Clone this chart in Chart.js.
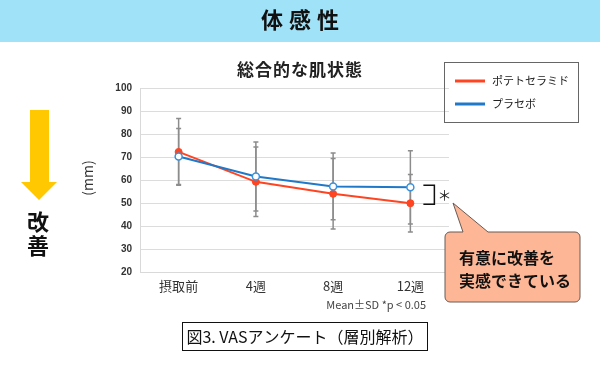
<!DOCTYPE html>
<html>
<head>
<meta charset="utf-8">
<script src="https://cdn.jsdelivr.net/npm/chart.js@4.4.0/dist/chart.umd.min.js"></script>
<style>
  html, body { margin: 0; padding: 0; background: #fff; }
  #wrap { position: relative; width: 600px; height: 370px; }
</style>
</head>
<body>
<div id="wrap"><canvas id="vasChart" width="600" height="370"></canvas></div>
<script>
// Data
const categories = ['摂取前', '4週', '8週', '12週'];
const ceramideMean = [72.2, 59.2, 54.0, 49.9];
const ceramideSd = [14.5, 15.1, 15.3, 12.5];
const placeboMean = [70.2, 61.5, 57.2, 56.8];
const placeboSd = [12.2, 15.0, 14.5, 15.9];
const yTicks = [20, 30, 40, 50, 60, 70, 80, 90, 100];

const JP = "'Noto Sans CJK JP', 'Noto Sans', sans-serif";
const RED = '#ff4422';
const BLUE = '#1f78c8';

// Error bars drawn under the lines
const errorBars = {
    id: 'errorBars',
    beforeDatasetsDraw(chart) {
        const ctx = chart.ctx;
        const y = chart.scales.y;
        ctx.save();
        ctx.strokeStyle = '#8c8c8c';
        ctx.lineWidth = 1.5;
        chart.data.datasets.forEach((ds, i) => {
            const meta = chart.getDatasetMeta(i);
            meta.data.forEach((pt, j) => {
                const top = y.getPixelForValue(ds.data[j] + ds.sd[j]);
                const bot = y.getPixelForValue(ds.data[j] - ds.sd[j]);
                ctx.beginPath();
                ctx.moveTo(pt.x, top);
                ctx.lineTo(pt.x, bot);
                ctx.moveTo(pt.x - 2.5, top);
                ctx.lineTo(pt.x + 2.5, top);
                ctx.moveTo(pt.x - 2.5, bot);
                ctx.lineTo(pt.x + 2.5, bot);
                ctx.stroke();
            });
        });
        ctx.restore();
    }
};

// Banner, titles, legend, bracket, callout, caption
const decorations = {
    id: 'decorations',
    beforeDraw(chart) {
        const ctx = chart.ctx;
        ctx.save();
        ctx.fillStyle = '#fff';
        ctx.fillRect(0, 0, chart.width, chart.height);
        ctx.fillStyle = '#a0e2f8';
        ctx.fillRect(0, 0, chart.width, 42);
        ctx.restore();
    },
    afterDraw(chart) {
        const ctx = chart.ctx;
        const x = chart.scales.x;
        const y = chart.scales.y;
        ctx.save();
        ctx.textBaseline = 'middle';

        // banner title
        ctx.fillStyle = '#111';
        ctx.font = 'bold 22px ' + JP;
        ctx.textAlign = 'center';
        ctx.letterSpacing = '6px';
        ctx.fillText('体感性', 303, 20);
        ctx.letterSpacing = '0px';

        // chart title
        ctx.fillStyle = '#222';
        ctx.font = 'bold 17px ' + JP;
        ctx.letterSpacing = '1px';
        ctx.fillText('総合的な肌状態', 300, 70);
        ctx.letterSpacing = '0px';

        // arrow
        ctx.fillStyle = '#ffc800';
        ctx.beginPath();
        ctx.moveTo(30, 110);
        ctx.lineTo(49, 110);
        ctx.lineTo(49, 182);
        ctx.lineTo(57, 182);
        ctx.lineTo(39, 200);
        ctx.lineTo(21, 182);
        ctx.lineTo(30, 182);
        ctx.closePath();
        ctx.fill();

        ctx.fillStyle = '#111';
        ctx.font = 'bold 22px ' + JP;
        ctx.fillText('改', 38, 222);
        ctx.fillText('善', 38, 246);

        // y unit
        ctx.save();
        ctx.translate(88, 178);
        ctx.rotate(-Math.PI / 2);
        ctx.fillStyle = '#333';
        ctx.font = '14px ' + JP;
        ctx.fillText('(mm)', 0, 0);
        ctx.restore();

        // legend
        ctx.strokeStyle = '#666';
        ctx.lineWidth = 1;
        ctx.strokeRect(444.5, 62.5, 134, 60);
        ctx.font = '11px ' + JP;
        ctx.textAlign = 'left';
        const legendOrder = [1, 0];
        legendOrder.forEach((di, k) => {
            const ds = chart.data.datasets[di];
            const ly = 81 + k * 23;
            ctx.strokeStyle = ds.borderColor;
            ctx.lineWidth = 3;
            ctx.beginPath();
            ctx.moveTo(455, ly);
            ctx.lineTo(485, ly);
            ctx.stroke();
            ctx.fillStyle = '#222';
            ctx.fillText(ds.label, 492, ly);
        });

        // significance bracket
        const bx = x.getPixelForValue(3);
        const bt = y.getPixelForValue(placeboMean[3]) - 2;
        const bb = y.getPixelForValue(ceramideMean[3]) + 1;
        ctx.strokeStyle = '#111';
        ctx.lineWidth = 1.5;
        ctx.beginPath();
        ctx.moveTo(bx + 13, bt);
        ctx.lineTo(bx + 24, bt);
        ctx.lineTo(bx + 24, bb);
        ctx.lineTo(bx + 13, bb);
        ctx.stroke();
        ctx.fillStyle = '#222';
        ctx.font = '14px ' + JP;
        ctx.textAlign = 'center';
        ctx.fillText('＊', bx + 34, (bt + bb) / 2);

        // callout
        const cl = 445, ct = 232, cr = 580, cb = 302, r = 5;
        ctx.beginPath();
        ctx.moveTo(cl + r, ct);
        ctx.lineTo(463, ct);
        ctx.lineTo(453, 203);
        ctx.lineTo(488, ct);
        ctx.lineTo(cr - r, ct);
        ctx.arcTo(cr, ct, cr, ct + r, r);
        ctx.lineTo(cr, cb - r);
        ctx.arcTo(cr, cb, cr - r, cb, r);
        ctx.lineTo(cl + r, cb);
        ctx.arcTo(cl, cb, cl, cb - r, r);
        ctx.lineTo(cl, ct + r);
        ctx.arcTo(cl, ct, cl + r, ct, r);
        ctx.closePath();
        ctx.fillStyle = '#fdb797';
        ctx.fill();
        ctx.strokeStyle = '#6b5a52';
        ctx.lineWidth = 1;
        ctx.stroke();
        ctx.fillStyle = '#111';
        ctx.font = 'bold 16px ' + JP;
        ctx.textAlign = 'left';
        ctx.fillText('有意に改善を', 459, 258);
        ctx.fillText('実感できている', 459, 281);

        // footnote + caption
        ctx.fillStyle = '#444';
        ctx.font = '11px ' + JP;
        ctx.textAlign = 'right';
        ctx.fillText('Mean±SD *p < 0.05', 426, 305);

        ctx.strokeStyle = '#111';
        ctx.lineWidth = 1;
        ctx.strokeRect(182.5, 322.5, 245, 28);
        ctx.fillStyle = '#111';
        ctx.font = '16px ' + JP;
        ctx.textAlign = 'center';
        ctx.fillText('図3. VASアンケート（層別解析）', 305, 337);
        ctx.restore();
    }
};

const chart = new Chart(document.getElementById('vasChart'), {
    type: 'line',
    data: {
        labels: categories,
        datasets: [{
            label: 'プラセボ',
            data: placeboMean,
            sd: placeboSd,
            borderColor: BLUE,
            borderWidth: 2,
            pointRadius: 3.5,
            pointBorderWidth: 1.5,
            pointBackgroundColor: '#fff',
            pointBorderColor: '#3a92dc',
            order: 1
        }, {
            label: 'ポテトセラミド',
            data: ceramideMean,
            sd: ceramideSd,
            borderColor: RED,
            borderWidth: 2,
            pointRadius: 3.5,
            pointBorderWidth: 1,
            pointBackgroundColor: RED,
            pointBorderColor: RED,
            order: 2
        }]
    },
    options: {
        responsive: false,
        animation: false,
        events: [],
        layout: { padding: { left: 100, right: 151, top: 88, bottom: 0 } },
        plugins: {
            legend: { display: false },
            title: { display: false },
            tooltip: { enabled: false }
        },
        scales: {
            x: {
                offset: true,
                grid: { display: false, drawTicks: false },
                border: { display: true, color: '#d9d9d9' },
                ticks: {
                    padding: 6,
                    color: '#333',
                    font: { family: JP, size: 13 }
                },
                afterFit(s) { s.height = 98; }
            },
            y: {
                min: 20,
                max: 100,
                afterBuildTicks(s) { s.ticks = yTicks.map(v => ({ value: v })); },
                grid: { color: '#dcdcdc', drawTicks: false },
                border: { display: true, color: '#d9d9d9' },
                ticks: {
                    padding: 8,
                    color: '#333',
                    font: { family: "'Liberation Sans', Arial, sans-serif", size: 10, weight: 'bold' }
                },
                afterFit(s) { s.width = 40; }
            }
        }
    },
    plugins: [errorBars, decorations]
});
</script>
</body>
</html>
